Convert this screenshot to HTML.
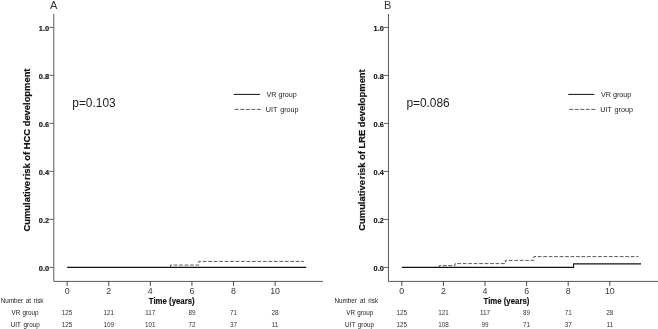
<!DOCTYPE html>
<html><head><meta charset="utf-8"><title>Cumulative risk</title>
<style>
html,body{margin:0;padding:0;background:#fff;}
svg{display:block;will-change:transform;font-family:"Liberation Sans",sans-serif;}
</style></head>
<body>
<svg width="658" height="329" viewBox="0 0 658 329">
<rect width="658" height="329" fill="#fff"/>
<path d="M53.80 14 V281.4 H323" fill="none" stroke="#585858" stroke-width="1"/>
<path d="M49.4 267.4 H53.80" stroke="#585858" stroke-width="0.95"/>
<text x="49.1" y="270.7" text-anchor="end" font-size="7.4" font-weight="bold" fill="#111" stroke="#111" stroke-width="0.15">0.0</text>
<path d="M49.4 219.4 H53.80" stroke="#585858" stroke-width="0.95"/>
<text x="49.1" y="222.7" text-anchor="end" font-size="7.4" font-weight="bold" fill="#111" stroke="#111" stroke-width="0.15">0.2</text>
<path d="M49.4 171.4 H53.80" stroke="#585858" stroke-width="0.95"/>
<text x="49.1" y="174.7" text-anchor="end" font-size="7.4" font-weight="bold" fill="#111" stroke="#111" stroke-width="0.15">0.4</text>
<path d="M49.4 123.4 H53.80" stroke="#585858" stroke-width="0.95"/>
<text x="49.1" y="126.7" text-anchor="end" font-size="7.4" font-weight="bold" fill="#111" stroke="#111" stroke-width="0.15">0.6</text>
<path d="M49.4 75.4 H53.80" stroke="#585858" stroke-width="0.95"/>
<text x="49.1" y="78.7" text-anchor="end" font-size="7.4" font-weight="bold" fill="#111" stroke="#111" stroke-width="0.15">0.8</text>
<path d="M49.4 27.4 H53.80" stroke="#585858" stroke-width="0.95"/>
<text x="49.1" y="30.7" text-anchor="end" font-size="7.4" font-weight="bold" fill="#111" stroke="#111" stroke-width="0.15">1.0</text>
<path d="M67.1 281.4 V285.8" stroke="#444" stroke-width="1"/>
<text transform="translate(67.1 294.3) scale(0.9 1)" text-anchor="middle" font-size="9.8" fill="#3a3a3a">0</text>
<text x="67.1" y="315" text-anchor="middle" font-size="6.3" fill="#333">125</text>
<text x="67.1" y="327.25" text-anchor="middle" font-size="6.3" fill="#333">125</text>
<path d="M108.7 281.4 V285.8" stroke="#444" stroke-width="1"/>
<text transform="translate(108.7 294.3) scale(0.9 1)" text-anchor="middle" font-size="9.8" fill="#3a3a3a">2</text>
<text x="108.69999999999999" y="315" text-anchor="middle" font-size="6.3" fill="#333">121</text>
<text x="108.69999999999999" y="327.25" text-anchor="middle" font-size="6.3" fill="#333">109</text>
<path d="M150.3 281.4 V285.8" stroke="#444" stroke-width="1"/>
<text transform="translate(150.3 294.3) scale(0.9 1)" text-anchor="middle" font-size="9.8" fill="#3a3a3a">4</text>
<text x="150.3" y="315" text-anchor="middle" font-size="6.3" fill="#333">117</text>
<text x="150.3" y="327.25" text-anchor="middle" font-size="6.3" fill="#333">101</text>
<path d="M191.9 281.4 V285.8" stroke="#444" stroke-width="1"/>
<text transform="translate(191.9 294.3) scale(0.9 1)" text-anchor="middle" font-size="9.8" fill="#3a3a3a">6</text>
<text x="191.9" y="315" text-anchor="middle" font-size="6.3" fill="#333">89</text>
<text x="191.9" y="327.25" text-anchor="middle" font-size="6.3" fill="#333">72</text>
<path d="M233.5 281.4 V285.8" stroke="#444" stroke-width="1"/>
<text transform="translate(233.5 294.3) scale(0.9 1)" text-anchor="middle" font-size="9.8" fill="#3a3a3a">8</text>
<text x="233.5" y="315" text-anchor="middle" font-size="6.3" fill="#333">71</text>
<text x="233.5" y="327.25" text-anchor="middle" font-size="6.3" fill="#333">37</text>
<path d="M275.1 281.4 V285.8" stroke="#444" stroke-width="1"/>
<text transform="translate(275.1 294.3) scale(0.9 1)" text-anchor="middle" font-size="9.8" fill="#3a3a3a">10</text>
<text x="275.1" y="315" text-anchor="middle" font-size="6.3" fill="#333">28</text>
<text x="275.1" y="327.25" text-anchor="middle" font-size="6.3" fill="#333">11</text>
<text x="148.8" y="303.8" font-size="8.4" font-weight="bold" fill="#111" stroke="#111" stroke-width="0.15" textLength="45.9" lengthAdjust="spacingAndGlyphs">Time (years)</text>
<text transform="translate(30 150) rotate(-90)" text-anchor="middle" font-size="9.4" font-weight="bold" fill="#111" stroke="#111" stroke-width="0.2">Cumulative<tspan dx="-1.7"> </tspan>risk of HCC development</text>
<text x="53.7" y="8.8" text-anchor="middle" font-size="11" fill="#333">A</text>
<text x="72.3" y="107" font-size="11.9" fill="#222">p=0.103</text>
<path d="M233.8 94.4 h26.1" stroke="#111" stroke-width="1"/>
<path d="M234.7 109.4 h26.2" stroke="#333" stroke-width="0.8" stroke-dasharray="4 1.53"/>
<text x="266.5" y="96.9" font-size="7.2" fill="#222">VR group</text>
<text x="265.8" y="111.9" font-size="7.2" fill="#222" word-spacing="0.9">UIT group</text>
<text x="0.7" y="303.4" font-size="6.3" fill="#222" word-spacing="0.9">Number at risk</text>
<text x="11.5" y="315" font-size="6.3" fill="#222" word-spacing="0.5">VR group</text>
<text x="10.8" y="327.25" font-size="6.3" fill="#222" word-spacing="1">UIT group</text>
<path d="M170.5 267.4 L170.5 265.1 L198.8 265.1 L198.8 261.4 L303.8 261.4 " fill="none" stroke="#3a3a3a" stroke-width="0.85" stroke-dasharray="3.7 1.77"/>
<path d="M67.1 267.4 L306.3 267.4 " fill="none" stroke="#111" stroke-width="1.08"/>
<path d="M388.45 14 V281.4 H658" fill="none" stroke="#585858" stroke-width="1"/>
<path d="M384.1 267.4 H388.45" stroke="#585858" stroke-width="0.95"/>
<text x="383.8" y="270.7" text-anchor="end" font-size="7.4" font-weight="bold" fill="#111" stroke="#111" stroke-width="0.15">0.0</text>
<path d="M384.1 219.4 H388.45" stroke="#585858" stroke-width="0.95"/>
<text x="383.8" y="222.7" text-anchor="end" font-size="7.4" font-weight="bold" fill="#111" stroke="#111" stroke-width="0.15">0.2</text>
<path d="M384.1 171.4 H388.45" stroke="#585858" stroke-width="0.95"/>
<text x="383.8" y="174.7" text-anchor="end" font-size="7.4" font-weight="bold" fill="#111" stroke="#111" stroke-width="0.15">0.4</text>
<path d="M384.1 123.4 H388.45" stroke="#585858" stroke-width="0.95"/>
<text x="383.8" y="126.7" text-anchor="end" font-size="7.4" font-weight="bold" fill="#111" stroke="#111" stroke-width="0.15">0.6</text>
<path d="M384.1 75.4 H388.45" stroke="#585858" stroke-width="0.95"/>
<text x="383.8" y="78.7" text-anchor="end" font-size="7.4" font-weight="bold" fill="#111" stroke="#111" stroke-width="0.15">0.8</text>
<path d="M384.1 27.4 H388.45" stroke="#585858" stroke-width="0.95"/>
<text x="383.8" y="30.7" text-anchor="end" font-size="7.4" font-weight="bold" fill="#111" stroke="#111" stroke-width="0.15">1.0</text>
<path d="M401.8 281.4 V285.8" stroke="#444" stroke-width="1"/>
<text transform="translate(401.8 294.3) scale(0.9 1)" text-anchor="middle" font-size="9.8" fill="#3a3a3a">0</text>
<text x="401.79999999999995" y="315" text-anchor="middle" font-size="6.3" fill="#333">125</text>
<text x="401.79999999999995" y="327.25" text-anchor="middle" font-size="6.3" fill="#333">125</text>
<path d="M443.4 281.4 V285.8" stroke="#444" stroke-width="1"/>
<text transform="translate(443.4 294.3) scale(0.9 1)" text-anchor="middle" font-size="9.8" fill="#3a3a3a">2</text>
<text x="443.4" y="315" text-anchor="middle" font-size="6.3" fill="#333">121</text>
<text x="443.4" y="327.25" text-anchor="middle" font-size="6.3" fill="#333">108</text>
<path d="M485.0 281.4 V285.8" stroke="#444" stroke-width="1"/>
<text transform="translate(485.0 294.3) scale(0.9 1)" text-anchor="middle" font-size="9.8" fill="#3a3a3a">4</text>
<text x="484.99999999999994" y="315" text-anchor="middle" font-size="6.3" fill="#333">117</text>
<text x="484.99999999999994" y="327.25" text-anchor="middle" font-size="6.3" fill="#333">99</text>
<path d="M526.6 281.4 V285.8" stroke="#444" stroke-width="1"/>
<text transform="translate(526.6 294.3) scale(0.9 1)" text-anchor="middle" font-size="9.8" fill="#3a3a3a">6</text>
<text x="526.5999999999999" y="315" text-anchor="middle" font-size="6.3" fill="#333">89</text>
<text x="526.5999999999999" y="327.25" text-anchor="middle" font-size="6.3" fill="#333">71</text>
<path d="M568.2 281.4 V285.8" stroke="#444" stroke-width="1"/>
<text transform="translate(568.2 294.3) scale(0.9 1)" text-anchor="middle" font-size="9.8" fill="#3a3a3a">8</text>
<text x="568.1999999999999" y="315" text-anchor="middle" font-size="6.3" fill="#333">71</text>
<text x="568.1999999999999" y="327.25" text-anchor="middle" font-size="6.3" fill="#333">37</text>
<path d="M609.8 281.4 V285.8" stroke="#444" stroke-width="1"/>
<text transform="translate(609.8 294.3) scale(0.9 1)" text-anchor="middle" font-size="9.8" fill="#3a3a3a">10</text>
<text x="609.8" y="315" text-anchor="middle" font-size="6.3" fill="#333">28</text>
<text x="609.8" y="327.25" text-anchor="middle" font-size="6.3" fill="#333">11</text>
<text x="483.5" y="303.8" font-size="8.4" font-weight="bold" fill="#111" stroke="#111" stroke-width="0.15" textLength="45.9" lengthAdjust="spacingAndGlyphs">Time (years)</text>
<text transform="translate(364.7 150) rotate(-90)" text-anchor="middle" font-size="9.4" font-weight="bold" fill="#111" stroke="#111" stroke-width="0.2">Cumulative<tspan dx="-1.7"> </tspan>risk of LRE development</text>
<text x="387.6" y="8.8" text-anchor="middle" font-size="11" fill="#333">B</text>
<text x="406.4" y="107" font-size="11.9" fill="#222">p=0.086</text>
<path d="M568.25 94.4 h26.1" stroke="#111" stroke-width="1"/>
<path d="M569.1500000000001 109.4 h26.2" stroke="#333" stroke-width="0.8" stroke-dasharray="4 1.53"/>
<text x="600.95" y="96.9" font-size="7.2" fill="#222">VR group</text>
<text x="600.25" y="111.9" font-size="7.2" fill="#222" word-spacing="0.9">UIT group</text>
<text x="334.5" y="303.4" font-size="6.3" fill="#222" word-spacing="1.3">Number at risk</text>
<text x="346.2" y="315" font-size="6.3" fill="#222" word-spacing="0.5">VR group</text>
<text x="345.1" y="327.25" font-size="6.3" fill="#222" word-spacing="1">UIT group</text>
<path d="M439.2 267.4 L439.2 265.6 L455.0 265.6 L455.0 263.6 L505.4 263.6 L505.4 260.4 L533.9 260.4 L533.9 256.6 L638.5 256.6 " fill="none" stroke="#3a3a3a" stroke-width="0.85" stroke-dasharray="3.7 1.77"/>
<path d="M401.8 267.4 L573.6 267.4 L573.6 263.9 L641.0 263.9 " fill="none" stroke="#111" stroke-width="1.08"/>
</svg>
</body></html>
